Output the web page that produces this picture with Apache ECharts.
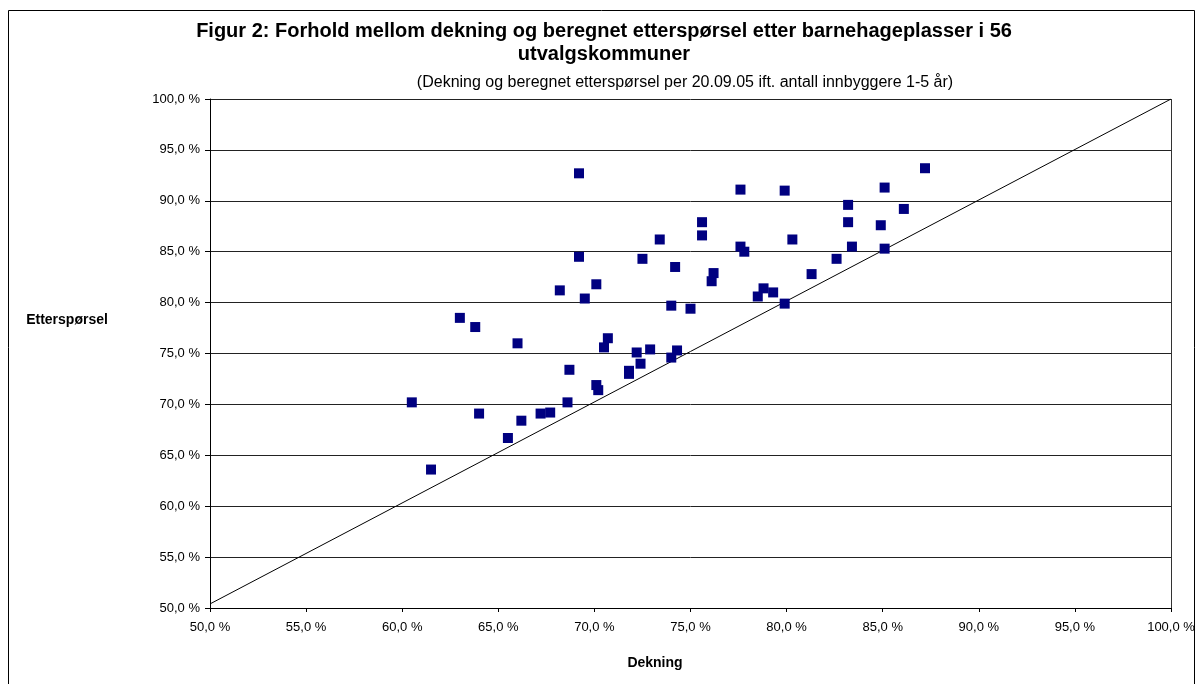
<!DOCTYPE html>
<html>
<head>
<meta charset="utf-8">
<script src="https://cdn.jsdelivr.net/npm/echarts@6/dist/echarts.min.js"></script>
<style>
  html, body { margin: 0; padding: 0; background: #fff; }
  #chart { width: 1198px; height: 684px; }
</style>
</head>
<body>
<div id="chart"></div>
<script>
// Dekning (x) og beregnet etterspørsel (y), i prosent, 56 kommuner
var dekning = [
  69.2, 73.4, 69.2, 72.5, 74.2, 70.1, 68.2, 69.5, 74.0, 75.0,
  63.0, 63.8, 70.7, 66.0, 70.5, 72.2, 72.9, 74.3, 74.0, 68.7,
  72.4, 71.8, 71.8, 70.1, 70.2, 60.5, 68.6, 64.0, 66.2, 67.2,
  67.7, 65.5, 61.5, 77.6, 79.9, 85.1, 87.2, 83.2, 86.1, 75.6,
  75.6, 83.2, 84.9, 80.3, 77.6, 77.8, 83.4, 85.1, 82.6, 76.2,
  76.1, 81.3, 78.8, 78.5, 79.3, 79.9
];
var ettersporsel = [
  92.7, 86.2, 84.5, 84.3, 83.5, 81.8, 81.2, 80.4, 79.7, 79.4,
  78.5, 77.6, 76.5, 76.0, 75.6, 75.1, 75.4, 75.3, 74.6, 73.4,
  74.0, 73.3, 73.0, 71.9, 71.4, 70.2, 70.2, 69.1, 68.4, 69.1,
  69.2, 66.7, 63.6, 91.1, 91.0, 91.3, 93.2, 89.6, 89.2, 87.9,
  86.6, 87.9, 87.6, 86.2, 85.5, 85.0, 85.5, 85.3, 84.3, 82.9,
  82.1, 82.8, 81.4, 80.6, 81.0, 79.9
];
// referanselinje
var linjeX = [50, 100];
var linjeY = [50.4, 100];

var punkter = dekning.map(function (d, i) { return [d, ettersporsel[i]]; });
var linje = linjeX.map(function (d, i) { return [d, linjeY[i]]; });

function pst(v) {
  return v.toFixed(1).replace('.', ',') + ' %';
}

var chart = echarts.init(document.getElementById('chart'));
var font = 'Liberation Sans, Arial, sans-serif';
var option = {
  animation: false,
  title: [
    {
      text: 'Figur 2: Forhold mellom dekning og beregnet etterspørsel etter barnehageplasser i 56\nutvalgskommuner',
      left: 604,
      top: 20,
      padding: 0,
      textAlign: 'center',
      textStyle: { fontFamily: font, fontSize: 20, fontWeight: 'bold', color: '#000', lineHeight: 23 }
    },
    {
      text: '(Dekning og beregnet etterspørsel per 20.09.05 ift. antall innbyggere 1-5 år)',
      left: 685,
      top: 75,
      padding: 0,
      textAlign: 'center',
      textStyle: { fontFamily: font, fontSize: 16, fontWeight: 'normal', color: '#000', lineHeight: 16 }
    }
  ],
  grid: { left: 210, right: 27, top: 99, bottom: 76 },
  xAxis: {
    type: 'value',
    min: 50, max: 100, interval: 5,
    axisLine: { lineStyle: { color: '#000', width: 1 } },
    axisTick: { show: true, length: 4, lineStyle: { color: '#000' } },
    axisLabel: { formatter: pst, fontFamily: font, fontSize: 13, color: '#000', margin: 13 },
    splitLine: { show: false }
  },
  yAxis: {
    type: 'value',
    min: 50, max: 100, interval: 5,
    axisLine: { show: true, lineStyle: { color: '#000', width: 1 } },
    axisTick: { show: true, length: 5, lineStyle: { color: '#000' } },
    axisLabel: { formatter: pst, fontFamily: font, fontSize: 13, color: '#000', margin: 10 },
    splitLine: { show: true, lineStyle: { color: '#222', width: 1 } }
  },
  graphic: [
    {
      type: 'rect',
      shape: { x: 8.5, y: 10.5, width: 1186, height: 700 },
      style: { fill: 'none', stroke: '#000', lineWidth: 1 }
    },
    {
      type: 'line',
      shape: { x1: 1171.5, y1: 99, x2: 1171.5, y2: 608 },
      style: { stroke: '#333', lineWidth: 1 }
    },
    {
      type: 'text',
      x: 655, y: 663,
      style: { text: 'Dekning', fontFamily: font, fontSize: 14, fontWeight: 'bold', fill: '#000', align: 'center', verticalAlign: 'middle' }
    },
    {
      type: 'text',
      x: 67, y: 320,
      style: { text: 'Etterspørsel', fontFamily: font, fontSize: 14, fontWeight: 'bold', fill: '#000', align: 'center', verticalAlign: 'middle' }
    }
  ],
  series: [
    {
      name: 'Linje',
      type: 'line',
      data: linje,
      symbol: 'none',
      lineStyle: { color: '#000', width: 1 },
      z: 1
    },
    {
      name: 'Kommuner',
      type: 'scatter',
      data: punkter,
      symbol: 'rect',
      symbolSize: 10,
      itemStyle: { color: '#000080', opacity: 1 },
      z: 3
    }
  ]
};
chart.setOption(option);
</script>
</body>
</html>
